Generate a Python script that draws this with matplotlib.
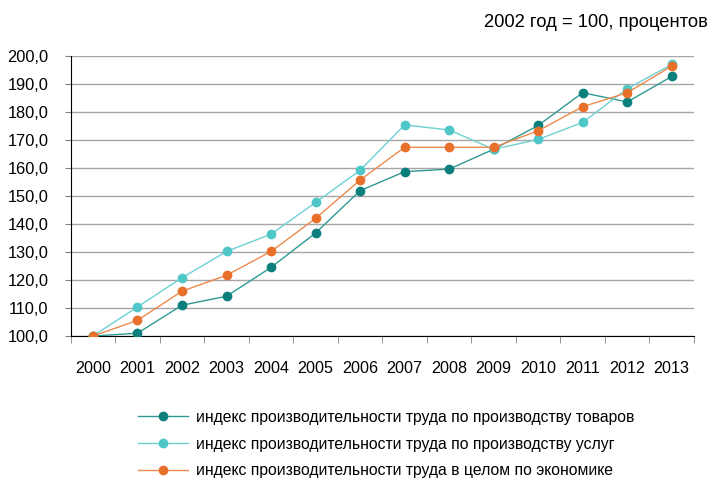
import numpy as np
import matplotlib
matplotlib.use("Agg")
import matplotlib.pyplot as plt
from matplotlib.ticker import FuncFormatter, FixedLocator

plt.rcParams["font.family"] = ["Liberation Sans", "DejaVu Sans"]

years = [str(y) for y in range(2000, 2014)]
goods = [100.0, 101.0, 111.0, 114.2, 124.5, 136.8, 151.9, 158.7, 159.6, 166.7, 175.2, 186.9, 183.6, 192.7]
services = [100.0, 110.4, 120.8, 130.2, 136.4, 147.7, 159.2, 175.4, 173.6, 166.7, 170.2, 176.3, 188.3, 197.0]
total = [100.0, 105.6, 116.0, 121.7, 130.2, 142.0, 155.7, 167.4, 167.4, 167.4, 173.3, 181.9, 186.9, 196.4]

labels = [
    "индекс производительности труда по производству товаров",
    "индекс производительности труда по производству услуг",
    "индекс производительности труда в целом по экономике",
]
colors = ["#0b7f7b", "#4fc6c8", "#e8702a"]
line_colors = ["#2f9994", "#6fd0d2", "#ee8a4e"]

fig = plt.figure(figsize=(7.12, 4.79), dpi=100)
ax = fig.add_axes([0.0993, 0.2985, 0.8754, 0.5845])

x = np.arange(len(years))
handles = []
for vals, c, lc, lab in zip([goods, services, total], colors, line_colors, labels):
    h, = ax.plot(x, vals, color=lc, lw=1.0, marker="o", markersize=6,
                 markerfacecolor=c, markeredgecolor=c, label=lab, zorder=3)
    handles.append(h)

ax.set_xlim(-0.5, len(years) - 0.5)
ax.set_ylim(100, 200)
ax.set_yticks(np.arange(100, 201, 10))
ax.yaxis.set_major_formatter(FuncFormatter(lambda v, p: f"{v:.1f}".replace(".", ",")))
ax.yaxis.grid(True, color="#a6a6a6", lw=1.0, zorder=0)
ax.set_axisbelow(True)

ax.set_xticks(x)
ax.set_xticklabels(years)
ax.xaxis.set_minor_locator(FixedLocator(np.arange(-0.5, len(years), 1.0)))
ax.tick_params(axis="x", which="major", length=0, pad=18, labelsize=11.6)
ax.tick_params(axis="x", which="minor", length=5, color="#808080", direction="out")
ax.tick_params(axis="y", length=4, color="#808080", labelsize=11.8, pad=12)

for s in ["top", "right"]:
    ax.spines[s].set_visible(False)
ax.spines["left"].set_color("black")
ax.spines["bottom"].set_color("black")

fig.text(0.994, 0.953, "2002 год = 100, процентов", ha="right", va="center", fontsize=13.2)

fig.legend(handles=handles, loc="upper left", bbox_to_anchor=(0.185, 0.158),
           frameon=False, fontsize=11.3, handlelength=3.2, handletextpad=0.5,
           labelspacing=0.76, borderaxespad=0)

fig.savefig("out.png", dpi=100)
